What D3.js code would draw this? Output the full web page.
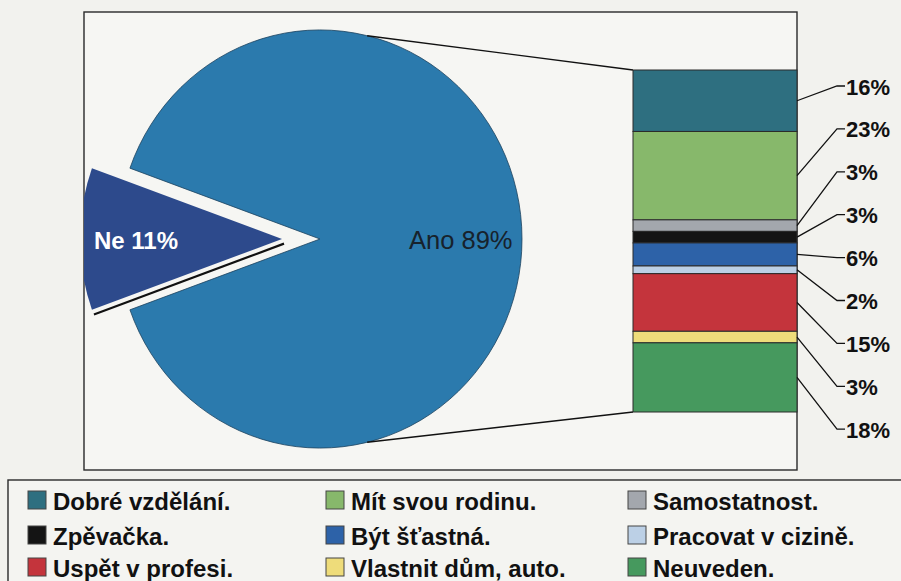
<!DOCTYPE html>
<html>
<head>
<meta charset="utf-8">
<script src="https://cdn.jsdelivr.net/npm/d3@7"></script>
<style>
  html, body { margin: 0; padding: 0; background: #f2f2ee; }
  svg { display: block; }
</style>
</head>
<body>
<svg id="chart" width="901" height="581"></svg>
<script>
// ---- data ----
const pieLabels = ["Ano", "Ne"];
const pieValues = [89, 11];
const pieColors = ["#2b7aad", "#2d4a8c"];

const categories = ["Dobré vzdělání.", "Mít svou rodinu.", "Samostatnost.", "Zpěvačka.",
  "Být šťastná.", "Pracovat v cizině.", "Uspět v profesi.", "Vlastnit dům, auto.", "Neuveden."];
const values = [16, 23, 3, 3, 6, 2, 15, 3, 18];
const colors = ["#2e6f80", "#87b86b", "#a3a7ad", "#141414", "#2d62a8", "#bcd0e6", "#c4343c", "#eedc7a", "#46995e"];
const labelText = values.map(v => v + "%");

// ---- layout ----
const svg = d3.select("#chart");
const frame = { x: 84, y: 12, w: 713, h: 458 };
const cx = 320, cy = 239, r = 202, sy = 1.035, explode = 38;
const bar = { x0: 633, x1: 797, y0: 70, y1: 412 };

svg.append("defs").append("clipPath").attr("id", "fclip")
  .append("rect").attr("x", frame.x).attr("y", frame.y).attr("width", frame.w).attr("height", frame.h);

// frame
svg.append("rect").attr("x", frame.x).attr("y", frame.y).attr("width", frame.w).attr("height", frame.h)
  .attr("fill", "#f6f6f3").attr("stroke", "#2a2a2a").attr("stroke-width", 1.4);

// pie
const pieData = pieLabels.map((l, i) => ({ label: l, value: pieValues[i], color: pieColors[i] }));
const total = d3.sum(pieValues);
const neFrac = pieValues[1] / total;
const start = 1.5 * Math.PI - (1 - neFrac / 2) * 2 * Math.PI;
const pie = d3.pie().sort(null).value(d => d.value).startAngle(start).endAngle(start + 2 * Math.PI);
const arcs = pie(pieData);
const arc = d3.arc().innerRadius(0).outerRadius(r);

const pg = svg.append("g").attr("clip-path", "url(#fclip)");
const pieG = pg.append("g").attr("transform", `translate(${cx},${cy}) scale(1,${sy})`);

arcs.forEach((a, i) => {
  const mid = (a.startAngle + a.endAngle) / 2;
  const off = i === 1 ? explode : 0;
  const dx = Math.sin(mid) * off, dy = -Math.cos(mid) * off;
  const g = pieG.append("g").attr("transform", `translate(${dx},${dy / sy})`);
  if (i === 1) {
    const ang = a.startAngle;
    const ex = Math.sin(ang) * r, ey = -Math.cos(ang) * r;
    g.append("line").attr("x1", 2).attr("y1", 4.5).attr("x2", ex + 2).attr("y2", ey + 4.5)
      .attr("stroke", "#111").attr("stroke-width", 2.2);
  }
  g.append("path").attr("d", arc(a)).attr("fill", a.data.color)
    .attr("stroke", i === 0 ? "#1e4460" : "none").attr("stroke-width", 0.8);
});

// connectors pie -> bar
const cAng = 13.5 * Math.PI / 180;
const topPt = [cx + Math.sin(cAng) * r, cy - Math.cos(cAng) * r * sy];
const botPt = [cx + Math.sin(cAng) * r, cy + Math.cos(cAng) * r * sy];
svg.append("line").attr("x1", topPt[0]).attr("y1", topPt[1]).attr("x2", bar.x0).attr("y2", bar.y0)
  .attr("stroke", "#111").attr("stroke-width", 1.4);
svg.append("line").attr("x1", botPt[0]).attr("y1", botPt[1]).attr("x2", bar.x0).attr("y2", bar.y1)
  .attr("stroke", "#111").attr("stroke-width", 1.4);

// pie labels
svg.append("text").attr("x", 94).attr("y", 240).attr("dominant-baseline", "central")
  .attr("font-family", "Liberation Sans, Arial, sans-serif").attr("font-weight", "bold")
  .attr("font-size", 24).attr("fill", "#ffffff").text(`${pieLabels[1]} ${pieValues[1]}%`);
svg.append("text").attr("x", 409).attr("y", 240).attr("dominant-baseline", "central")
  .attr("font-family", "Liberation Sans, Arial, sans-serif")
  .attr("font-size", 25.5).attr("fill", "#17222c").text(`${pieLabels[0]} ${pieValues[0]}%`);

// bar of pie
const stackTotal = d3.sum(values);
const y = d3.scaleLinear().domain([0, stackTotal]).range([bar.y0, bar.y1]);
let cum = 0;
const segs = values.map((v, i) => { const s = { i, v, a: cum, b: cum + v }; cum += v; return s; });
svg.append("g").selectAll("rect").data(segs).join("rect")
  .attr("x", bar.x0).attr("width", bar.x1 - bar.x0)
  .attr("y", d => y(d.a)).attr("height", d => y(d.b) - y(d.a))
  .attr("fill", d => colors[d.i]).attr("stroke", "#2a2a2a").attr("stroke-width", 1);

// labels & leader lines
const labY0 = 87, labStep = 42.9;
const lg = svg.append("g");
segs.forEach((d, k) => {
  const ly = labY0 + k * labStep;
  const my = (y(d.a) + y(d.b)) / 2;
  lg.append("polyline")
    .attr("points", `${bar.x1},${my} ${837},${ly - 1} ${845},${ly - 1}`)
    .attr("fill", "none").attr("stroke", "#111").attr("stroke-width", 1.3);
  lg.append("text").attr("x", 846).attr("y", ly).attr("dominant-baseline", "central")
    .attr("font-family", "Liberation Sans, Arial, sans-serif").attr("font-weight", "bold")
    .attr("font-size", 22).attr("fill", "#111").text(labelText[k]);
});

// legend
svg.append("rect").attr("x", 8).attr("y", 480).attr("width", 1000).attr("height", 200)
  .attr("fill", "#f4f4f1").attr("stroke", "#2a2a2a").attr("stroke-width", 1.4);
const colX = [28, 326, 628], rowY = [500, 535, 567];
const leg = svg.append("g");
categories.forEach((c, i) => {
  const cx0 = colX[i % 3], cy0 = rowY[Math.floor(i / 3)];
  leg.append("rect").attr("x", cx0).attr("y", cy0 - 9).attr("width", 18).attr("height", 18)
    .attr("fill", colors[i]).attr("stroke", "#444").attr("stroke-width", 1);
  leg.append("text").attr("x", cx0 + 25).attr("y", cy0 + 1).attr("dominant-baseline", "central")
    .attr("font-family", "Liberation Sans, Arial, sans-serif").attr("font-weight", "bold")
    .attr("font-size", 24).attr("fill", "#111").text(c);
});
</script>
</body>
</html>
